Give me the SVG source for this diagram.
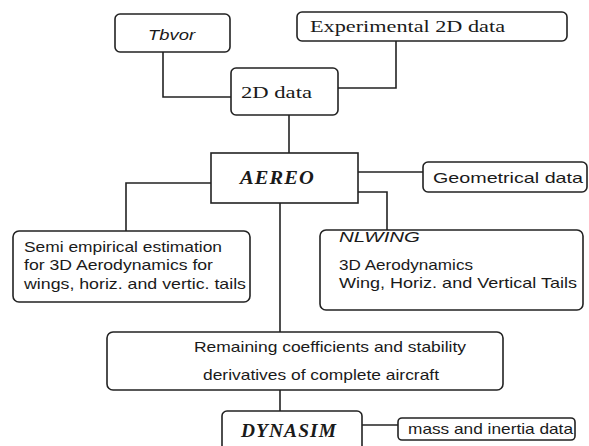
<svg xmlns="http://www.w3.org/2000/svg" width="589" height="446" viewBox="0 0 589 446">
<style>
.box{fill:#fff;stroke:#222;stroke-width:1.6}
.c{fill:none;stroke:#222;stroke-width:1.6}
text{fill:#1a1a1a;font-family:"Liberation Sans","DejaVu Sans",sans-serif;font-size:15px}
.s{font-family:"Liberation Serif","Times New Roman",serif;font-size:17px}
.i{font-style:italic}
.bi{font-family:"Liberation Serif",serif;font-style:italic;font-weight:bold;font-size:18px;letter-spacing:1px}
</style>
<rect width="589" height="446" fill="#fff"/>
<g id="connectors">
<polyline class="c" points="163,52 163,97 231,97"/>
<polyline class="c" points="396,41 396,88 338,88"/>
<line class="c" x1="289" y1="115" x2="289" y2="153"/>
<line class="c" x1="358" y1="172" x2="423" y2="172"/>
<polyline class="c" points="211,183 126,183 126,231"/>
<polyline class="c" points="358,192 387,192 387,230"/>
<line class="c" x1="280" y1="203" x2="280" y2="332"/>
<line class="c" x1="280" y1="390" x2="280" y2="411"/>
<line class="c" x1="362" y1="425" x2="398" y2="425"/>
</g>
<g id="tbvor">
<rect class="box" x="115" y="14" width="115" height="38" rx="5"/>
<text class="i" x="148" y="40" textLength="47" lengthAdjust="spacingAndGlyphs">Tbvor</text>
</g>
<g id="exp2d">
<rect class="box" x="297" y="12" width="270" height="29" rx="5"/>
<text class="s" x="310" y="32" textLength="195" lengthAdjust="spacingAndGlyphs">Experimental 2D data</text>
</g>
<g id="data2d">
<rect class="box" x="231" y="68" width="107" height="47" rx="5"/>
<text class="s" x="241" y="98" textLength="71" lengthAdjust="spacingAndGlyphs">2D data</text>
</g>
<g id="aereo">
<rect class="box" x="211" y="153" width="147" height="50"/>
<text class="bi" x="240" y="184" textLength="75" lengthAdjust="spacingAndGlyphs">AEREO</text>
</g>
<g id="geom">
<rect class="box" x="423" y="162" width="164" height="30" rx="5"/>
<text x="433" y="183" font-size="17" textLength="150" lengthAdjust="spacingAndGlyphs">Geometrical data</text>
</g>
<g id="semi">
<rect class="box" x="13" y="231" width="237" height="71" rx="6"/>
<text x="24" y="252" textLength="198" lengthAdjust="spacingAndGlyphs">Semi empirical estimation</text>
<text x="24" y="270" textLength="189" lengthAdjust="spacingAndGlyphs">for 3D Aerodynamics for</text>
<text x="24" y="289" textLength="222" lengthAdjust="spacingAndGlyphs">wings, horiz. and vertic. tails</text>
</g>
<g id="nlwing">
<rect class="box" x="320" y="230" width="263" height="80" rx="6"/>
<text class="i" x="339" y="242" font-size="16" textLength="81" lengthAdjust="spacingAndGlyphs">NLWING</text>
<text x="339" y="270" textLength="134" lengthAdjust="spacingAndGlyphs">3D Aerodynamics</text>
<text x="339" y="288" textLength="238" lengthAdjust="spacingAndGlyphs">Wing, Horiz. and Vertical Tails</text>
</g>
<g id="remaining">
<rect class="box" x="107" y="332" width="396" height="58" rx="6"/>
<text x="194" y="352" textLength="272" lengthAdjust="spacingAndGlyphs">Remaining coefficients and stability</text>
<text x="203" y="380" textLength="236" lengthAdjust="spacingAndGlyphs">derivatives of complete aircraft</text>
</g>
<g id="dynasim">
<rect class="box" x="222" y="411" width="140" height="40" rx="5"/>
<text class="bi" x="241" y="437" textLength="96" lengthAdjust="spacingAndGlyphs">DYNASIM</text>
</g>
<g id="mass">
<rect class="box" x="398" y="418" width="177" height="22" rx="4"/>
<text x="408" y="434" font-size="14" textLength="165" lengthAdjust="spacingAndGlyphs">mass and inertia data</text>
</g>
</svg>
